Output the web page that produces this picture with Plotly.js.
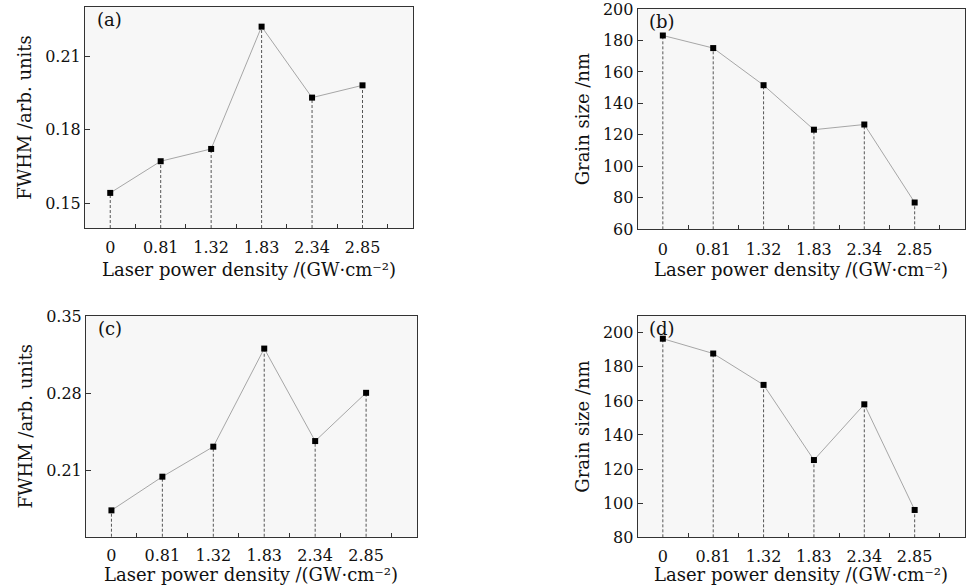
<!DOCTYPE html>
<html>
<head>
<meta charset="utf-8">
<script src="https://cdn.plot.ly/plotly-3.0.1.min.js"></script>
<style>html,body{margin:0;padding:0;background:#fff;}#chart{width:966px;height:588px;}</style>
</head>
<body>
<div id="chart"></div>
<script>
const categories = ['0', '0.81', '1.32', '1.83', '2.34', '2.85'];
const fwhmA = [0.1543, 0.1672, 0.1722, 0.2220, 0.1931, 0.1981];
const grainB = [183.2, 175.2, 151.6, 123.3, 126.6, 77.0];
const fwhmC = [0.1738, 0.2043, 0.2315, 0.3204, 0.2366, 0.2803];
const grainD = [196.5, 187.8, 169.4, 125.3, 158.0, 96.0];
const panelLabels = ['(a)', '(b)', '(c)', '(d)'];
const xTitle = 'Laser power density /(GW\u00b7cm\u207b\u00b2)';
const yTitles = ['FWHM /arb. units', 'Grain size /nm', 'FWHM /arb. units', 'Grain size /nm'];

const FONT = 'DejaVu Serif, serif';
const TXT = '#111';
const panels = [
  {y: fwhmA, xd: [0.0880, 0.4275], yd: [0.6122, 0.9881], yr: [0.14, 0.23], tv: [0.15, 0.18, 0.21], ts: 5, tshift: -41},
  {y: grainB, xd: [0.6601, 0.9990], yd: [0.6100, 0.9847], yr: [59.95, 200.05], tv: [60, 80, 100, 120, 140, 160, 180, 200], ts: 5, tshift: -40},
  {y: fwhmC, xd: [0.0890, 0.4317], yd: [0.0872, 0.4631], yr: [0.1499, 0.3502], tv: [0.21, 0.28, 0.35], ts: 4, tshift: -38},
  {y: grainD, xd: [0.6601, 0.9990], yd: [0.0862, 0.4631], yr: [79.95, 210], tv: [80, 100, 120, 140, 160, 180, 200], ts: 4, tshift: -37}
];

const data = [];
const shapes = [];
const annotations = [];
const layout = {
  width: 966, height: 588,
  margin: {l: 0, r: 0, t: 0, b: 0},
  paper_bgcolor: '#ffffff',
  plot_bgcolor: '#f7f7f7',
  showlegend: false,
  font: {family: FONT, size: 16, color: TXT}
};

panels.forEach((p, i) => {
  const n = i === 0 ? '' : String(i + 1);
  const xa = 'x' + n, ya = 'y' + n;
  data.push({
    type: 'scatter', mode: 'lines+markers',
    x: categories, y: p.y,
    xaxis: xa, yaxis: ya,
    line: {color: '#a6a6a6', width: 1},
    marker: {symbol: 'square', size: 6, color: '#000'},
    cliponaxis: false
  });
  p.y.forEach((v, k) => {
    shapes.push({
      type: 'line', xref: xa, yref: ya + ' domain',
      x0: k, x1: k, y0: 0, y1: (v - p.yr[0]) / (p.yr[1] - p.yr[0]),
      line: {color: '#555', width: 1, dash: '3px,2px'}, layer: 'below'
    });
  });
  layout['xaxis' + n] = {
    domain: p.xd, anchor: ya, type: 'category',
    range: [-0.5, 6.0],
    showline: true, mirror: true, linecolor: '#333', linewidth: 1,
    ticks: 'inside', tickson: 'boundaries', ticklen: 4, tickcolor: '#333',
    ticklabelstandoff: p.ts,
    showgrid: false, zeroline: false,
    tickfont: {family: FONT, size: 16, color: TXT}
  };
  layout['yaxis' + n] = {
    domain: p.yd, anchor: xa,
    range: p.yr, tickmode: 'array', tickvals: p.tv,
    showline: true, mirror: true, linecolor: '#333', linewidth: 1,
    ticks: 'inside', ticklen: 5, tickcolor: '#333',
    ticklabeloverflow: 'allow',
    showgrid: false, zeroline: false,
    tickfont: {family: FONT, size: 16, color: TXT},
    title: {text: yTitles[i], font: {family: FONT, size: 18, color: TXT}, standoff: 8}
  };
  annotations.push({
    text: panelLabels[i], xref: xa + ' domain', yref: ya + ' domain',
    x: 0.03, y: 1.0, xanchor: 'left', yanchor: 'top', showarrow: false,
    font: {family: FONT, size: 18, color: TXT}
  });
  annotations.push({
    text: xTitle, xref: xa + ' domain', yref: ya + ' domain',
    x: 0.5, y: 0, xanchor: 'center', yanchor: 'middle', yshift: p.tshift,
    showarrow: false, borderpad: 0,
    font: {family: FONT, size: 18, color: TXT}
  });
});
layout.shapes = shapes;
layout.annotations = annotations;

Plotly.newPlot('chart', data, layout, {displayModeBar: false, staticPlot: true});
</script>
</body>
</html>
